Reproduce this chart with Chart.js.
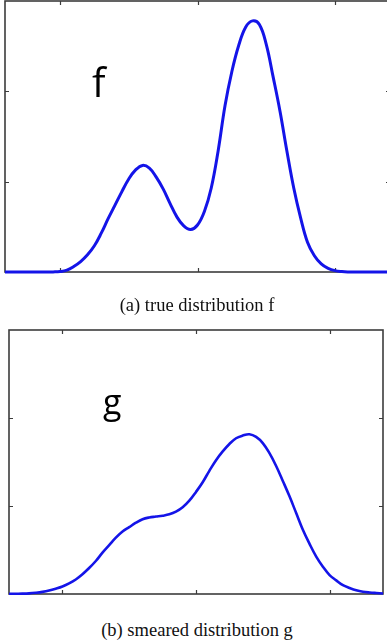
<!DOCTYPE html>
<html>
<head>
    <meta charset="UTF-8">
    <title>True and smeared distributions</title>
    <script src="https://cdn.jsdelivr.net/npm/chart.js"></script>
    <style>
        body {
            margin: 0;
            background: #fff;
            overflow: hidden;
            width: 387px;
            height: 644px;
            position: relative;
        }
        canvas {
            position: absolute;
            left: 0;
        }
        #chartF { top: 0; }
        #chartG { top: 320px; }
        .label {
            position: absolute;
            font-family: "Open Sans", sans-serif;
            color: #000;
            line-height: 1;
        }
        .caption {
            position: absolute;
            left: 0;
            width: 394px;
            text-align: center;
            font-family: "Liberation Serif", serif;
            font-size: 18.5px;
            line-height: 1;
            color: #111;
        }
    </style>
</head>
<body>
<canvas id="chartF" width="400" height="290"></canvas>
<canvas id="chartG" width="387" height="290"></canvas>

<div class="label" style="left:92px; top:62px; font-size:40px;">f</div>
<div class="label" style="left:103px; top:384px; font-size:34px;">g</div>

<div class="caption" style="top:296px;">(a) true distribution f</div>
<div class="caption" style="top:621px;">(b) smeared distribution g</div>

<script>
    // shared x positions for both curves
    const xs = [0.6, 0.65, 0.7, 0.75, 0.8, 0.85, 0.9, 0.95,
        1.0, 1.05, 1.1, 1.15, 1.2, 1.25, 1.3, 1.35, 1.4, 1.45,
        1.5, 1.55, 1.6, 1.65, 1.7, 1.75, 1.8, 1.85, 1.9, 1.95,
        2.0, 2.05, 2.1, 2.15, 2.2, 2.25, 2.3, 2.35, 2.4, 2.45,
        2.5, 2.55, 2.6, 2.65, 2.7, 2.75, 2.8, 2.85, 2.9, 2.95,
        3.0, 3.05, 3.1, 3.15, 3.2, 3.25, 3.3, 3.35, 3.4];

    // true distribution f
    const fY = [0, 0, 0, 0, 0, 0, 0, 0.001,
        0.005, 0.02, 0.06, 0.115, 0.19, 0.29, 0.43, 0.59, 0.74, 0.89,
        1.03, 1.13, 1.18, 1.15, 1.05, 0.92, 0.76, 0.61, 0.51, 0.47,
        0.52, 0.67, 0.93, 1.34, 1.84, 2.22, 2.51, 2.71, 2.78, 2.74,
        2.52, 2.16, 1.78, 1.34, 0.93, 0.60, 0.33, 0.18, 0.09, 0.04,
        0.015, 0.005, 0.001, 0, 0, 0, 0, 0, 0];

    // smeared distribution g
    const gY = [0.002, 0.003, 0.004, 0.007, 0.014, 0.024, 0.039, 0.06,
        0.085, 0.12, 0.165, 0.225, 0.295, 0.375, 0.47, 0.555, 0.64, 0.71,
        0.76, 0.81, 0.85, 0.87, 0.88, 0.89, 0.905, 0.935, 0.985, 1.06,
        1.16, 1.27, 1.40, 1.52, 1.62, 1.705, 1.77, 1.80, 1.815, 1.785,
        1.715, 1.60, 1.455, 1.285, 1.11, 0.92, 0.73, 0.57, 0.425, 0.31,
        0.215, 0.155, 0.10, 0.068, 0.042, 0.026, 0.017, 0.011, 0.006];

    const xTicks = [1, 2, 3];
    const yTicks = [1, 2];

    // box around the plot area with short inward ticks on all four sides
    const framePlugin = {
        id: 'frame',
        beforeDatasetsDraw(chart) {
            const { ctx, chartArea: a, scales: { x, y } } = chart;
            const len = 4;
            ctx.save();
            ctx.strokeStyle = '#3c3c3c';
            ctx.lineWidth = 1.6;
            ctx.strokeRect(a.left, a.top, a.right - a.left, a.bottom - a.top);
            ctx.lineWidth = 1.2;
            ctx.beginPath();
            xTicks.forEach(v => {
                const px = Math.round(x.getPixelForValue(v)) + 0.5;
                ctx.moveTo(px, a.bottom); ctx.lineTo(px, a.bottom - len);
                ctx.moveTo(px, a.top); ctx.lineTo(px, a.top + len);
            });
            yTicks.forEach(v => {
                const py = Math.round(y.getPixelForValue(v)) + 0.5;
                ctx.moveTo(a.left, py); ctx.lineTo(a.left + len, py);
                ctx.moveTo(a.right, py); ctx.lineTo(a.right - len, py);
            });
            ctx.stroke();
            ctx.restore();
        }
    };

    function makeChart(id, ys, padding, width) {
        return new Chart(document.getElementById(id), {
            type: 'line',
            data: {
                datasets: [{
                    data: xs.map((v, i) => ({ x: v, y: ys[i] })),
                    borderColor: '#1414e8',
                    borderWidth: width,
                    pointRadius: 0,
                    tension: 0.4,
                    fill: false,
                    clip: false
                }]
            },
            options: {
                responsive: false,
                animation: false,
                devicePixelRatio: 1,
                layout: { padding: padding },
                plugins: {
                    legend: { display: false },
                    tooltip: { enabled: false }
                },
                scales: {
                    x: { type: 'linear', min: 0.6, max: 3.4, display: false },
                    y: { min: 0, max: 3, display: false }
                }
            },
            plugins: [framePlugin]
        });
    }

    makeChart('chartF', fY, { left: 5, top: 1, right: 10, bottom: 18 }, 3);
    makeChart('chartG', gY, { left: 9, top: 10, right: 4, bottom: 16 }, 2.6);
</script>
</body>
</html>
